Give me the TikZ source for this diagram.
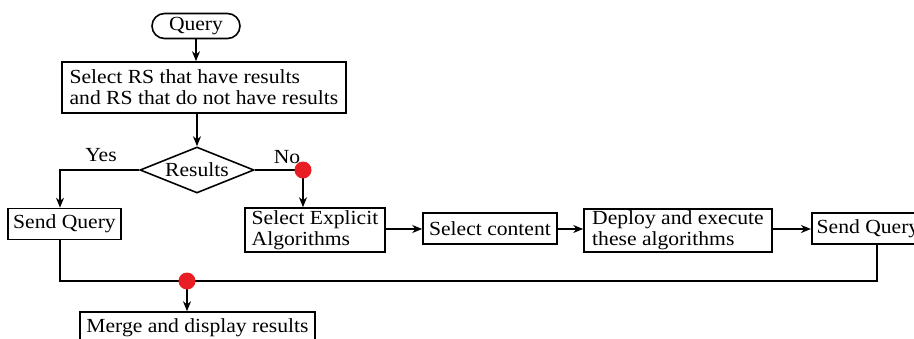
\documentclass[tikz,border=0pt]{standalone}
\usepackage{fontspec}
\setmainfont{Liberation Serif}[FakeStretch=1.08]
\usetikzlibrary{shapes.geometric,arrows.meta}
\definecolor{dotred}{RGB}{232,30,36}
\begin{document}
\begin{tikzpicture}[x=1pt,y=-1pt,
  every node/.style={font=\fontsize{20}{21}\selectfont},
  box/.style={draw,line width=1.6pt,rectangle,inner xsep=5pt,inner ysep=2pt},
  lbox/.style={box,align=left},
  conn/.style={line width=1.6pt},
  arr/.style={conn,-{Stealth[length=10pt,width=8pt]}},
  dot/.style={fill=dotred,draw=none,circle,minimum size=17pt,inner sep=0pt},
  lab/.style={inner sep=0pt}]
\useasboundingbox (0,0) rectangle (914,338);
\clip (0,0) rectangle (914,338);
\fill[white] (0,0) rectangle (914,338);

\node[box,rounded corners=12.5pt,minimum width=88pt,minimum height=25pt,inner ysep=0pt] (query) at (196,26) {Query};
\node[lbox,minimum width=284pt,minimum height=51pt] (sel) at (204,87.5) {Select RS that have results\\and RS that do not have results};
\node[draw,line width=1.6pt,diamond,aspect=2.48,inner sep=0pt,minimum width=114pt,minimum height=46pt] (dia) at (197,170) {Results};
\node[box,minimum width=112pt,minimum height=31pt] (sq1) at (64.5,224) {Send Query};
\node[lbox,minimum width=140pt,minimum height=44pt] (sea) at (315,230) {Select Explicit\\Algorithms};
\node[box,minimum width=134pt,minimum height=31pt] (sc) at (490,228.5) {Select content};
\node[lbox,minimum width=188pt,minimum height=43pt] (dep) at (678,230.5) {Deploy and execute\\these algorithms};
\node[box,minimum width=112pt,minimum height=31pt] (sq2) at (868,228.5) {Send Query};
\node[box,minimum width=235pt,minimum height=32pt] (merge) at (197.5,328) {Merge and display results};

\node[lab] (yes) at (101,155) {Yes};
\node[lab] (no) at (287,157) {No};

\coordinate (nodot) at (303,170);
\coordinate (bl) at (60,281);
\coordinate (br) at (877,281);
\coordinate (mdot) at (187,281);

\draw[arr] (query.south) -- (query.south |- sel.north);
\draw[arr] (dia.north |- sel.south) -- (dia.north);
\draw[arr] (dia.west) -| ([xshift=-4.5pt]sq1.north);
\draw[conn] (dia.east) -- (nodot);
\draw[arr] (nodot) -- (nodot |- sea.north);
\draw[arr] (sea.east |- 0,229) -- (sc.west |- 0,229);
\draw[arr] (sc.east |- 0,229) -- (dep.west |- 0,229);
\draw[arr] (dep.east |- 0,229) -- (sq2.west |- 0,229);
\draw[conn] ([xshift=-4.5pt]sq1.south) -- (bl) -- (br) -- (br |- sq2.south);
\draw[arr] (mdot) -- (mdot |- merge.north);

\node[dot] (d1) at (nodot) {};
\node[dot] (d2) at (mdot) {};
\end{tikzpicture}
\end{document}
